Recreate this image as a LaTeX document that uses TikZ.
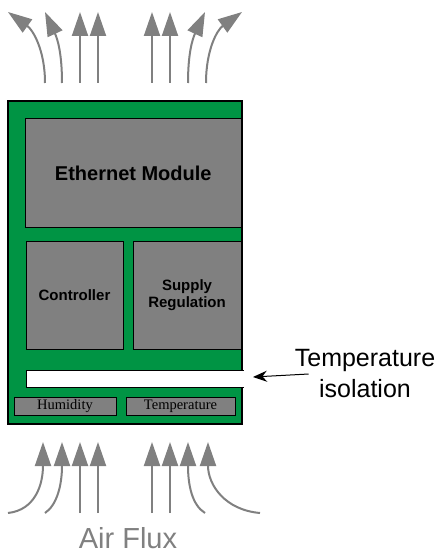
\documentclass[tikz,border=0pt]{standalone}
\usepackage{fontspec}
\setmainfont{Liberation Sans}
\newfontfamily\sensorfont{Liberation Serif}
\usetikzlibrary{arrows.meta}
\definecolor{boardgreen}{RGB}{0,148,68}
\definecolor{chipgray}{RGB}{128,128,128}
\begin{document}
\begin{tikzpicture}[x=1pt,y=-1pt,
  board/.style={draw=black, line width=1.6pt, fill=boardgreen, inner sep=0pt, outer sep=0pt},
  chip/.style={draw=black, line width=1pt, fill=chipgray, inner sep=0pt, outer sep=0pt, align=center, font=\bfseries\fontsize{15}{17}\selectfont},
  sensor/.style={draw=black, line width=1pt, fill=chipgray, inner sep=0pt, outer sep=0pt, font=\sensorfont\fontsize{14.5}{16}\selectfont},
  flow/.style={draw=chipgray, line width=2pt, -{Triangle[length=24pt,width=16pt]}},
  label/.style={align=center, inner sep=0pt, font=\fontsize{25}{31}\selectfont},
]
\useasboundingbox (0,0) rectangle (440,556);

% board
\node[board, minimum width=234pt, minimum height=323pt] (board) at (125,262.5) {};
\node[chip, minimum width=215.5pt, minimum height=108pt, font=\bfseries\fontsize{20}{24}\selectfont] (eth) at (133.25,173) {Ethernet Module};
\node[chip, minimum width=97pt, minimum height=108pt] (ctrl) at (74.5,295) {Controller};
\node[chip, minimum width=108pt, minimum height=108pt] (supply) at (187,295) {Supply\\Regulation};

% isolation slot
\coordinate (barNW) at (26,370);
\coordinate (barSE) at (243.5,387);
\fill[white] (barNW) rectangle (barSE);
\draw[line width=1pt] (243.5,370) -- (barNW) -- (26,387) -- (243.5,387);

\node[sensor, minimum width=102pt, minimum height=18pt] (hum) at (65,406) {Humidity};
\node[sensor, minimum width=109pt, minimum height=18pt] (temp) at (180.5,406) {Temperature};

% label
\node[label] (iso) at (365,374) {Temperature\\isolation};
\coordinate (isoTip) at (253,377);
\draw[line width=1pt, -{Stealth[length=14pt,width=11pt]}] ([xshift=14pt]iso.west) -- (isoTip);

% outgoing air (top)
\draw[flow] (45,83) .. controls (45,50) and (33,30) .. (8,12);
\draw[flow] (62,83) .. controls (62,55) and (58,40) .. (45,12);
\draw[flow] (80,83) -- (80,12);
\draw[flow] (98,83) -- (98,12);
\draw[flow] (152,83) -- (152,12);
\draw[flow] (170,83) -- (170,12);
\draw[flow] (188,83) .. controls (188,55) and (192,40) .. (205,12);
\draw[flow] (206,83) .. controls (206,50) and (217,30) .. (242,12);

% incoming air (bottom)
\draw[flow] (8,513) .. controls (35,510) and (43,485) .. (43,442);
\draw[flow] (45,513) .. controls (57,505) and (62,485) .. (62,442);
\draw[flow] (80,513) -- (80,442);
\draw[flow] (98,513) -- (98,442);
\draw[flow] (152,513) -- (152,442);
\draw[flow] (170,513) -- (170,442);
\draw[flow] (205,513) .. controls (192,505) and (188,485) .. (188,442);
\draw[flow] (260,513) .. controls (225,510) and (208,485) .. (208,442);

\node[text=chipgray, inner sep=0pt, font=\fontsize{29}{34}\selectfont] (airflux) at (128,538.5) {Air Flux};
\end{tikzpicture}
\end{document}
